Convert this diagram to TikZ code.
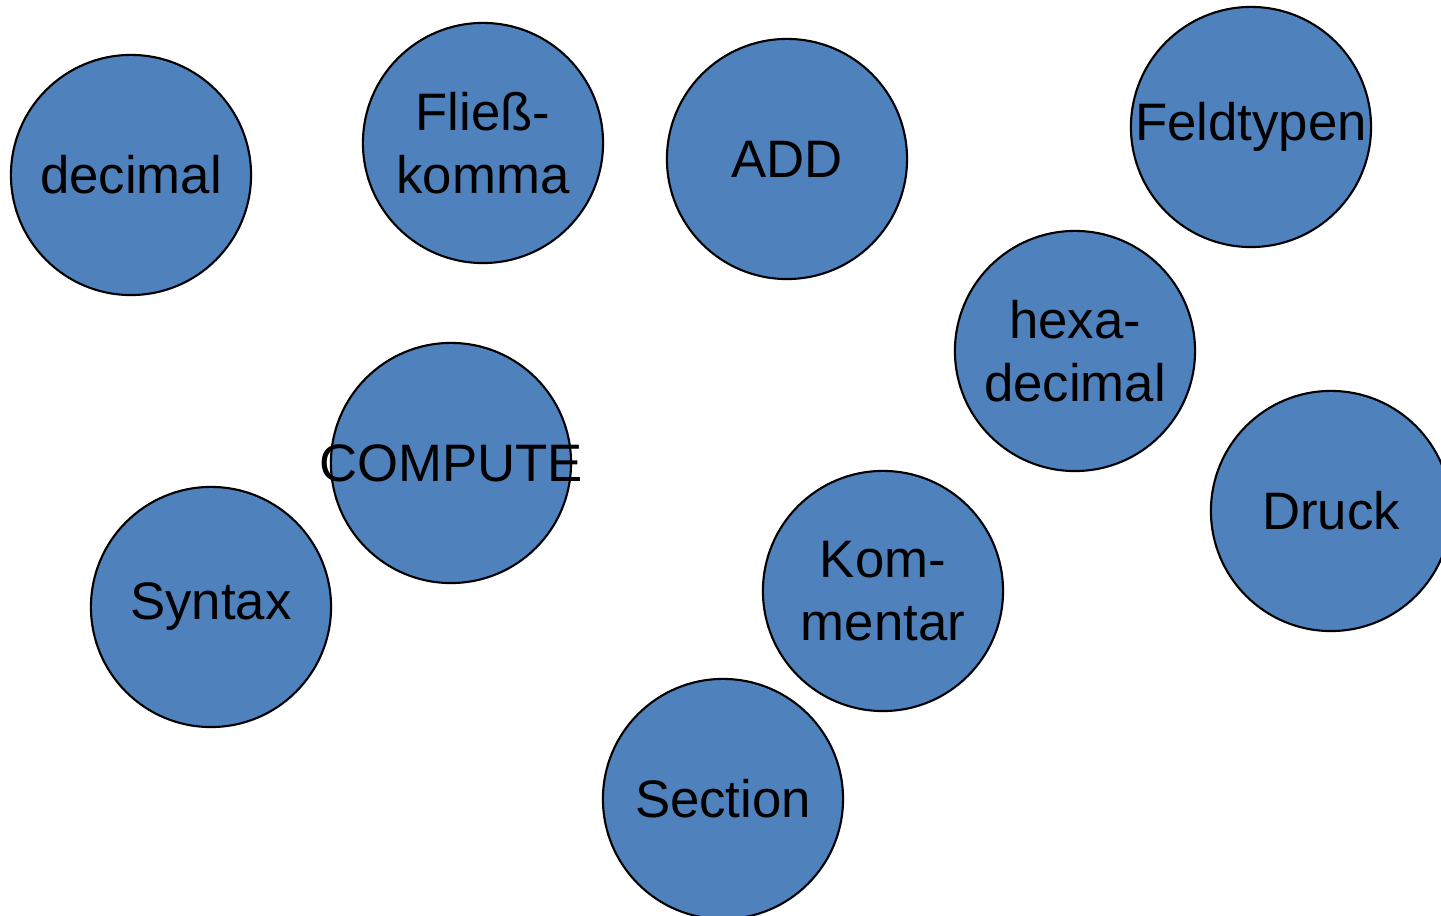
\documentclass[tikz,border=0pt]{standalone}
\usepackage{fontspec}
\setmainfont{Liberation Sans}
\usepackage{tikz}
\definecolor{bubbleblue}{HTML}{4F81BD}
\def\bubble(#1)(#2)#3{\node[bubble] (#1) at (#2) {}; \node[bubbletext] at (#1) {#3};}

\begin{document}
\begin{tikzpicture}[x=0.01cm,y=-0.01cm,
		bubble/.style={circle, draw=black, line width=0.6pt, fill=bubbleblue, minimum size=2.4cm, inner sep=0pt},
		bubbletext/.style={align=center, font=\fontsize{15pt}{18pt}\selectfont, inner sep=0pt}]
				\useasboundingbox (0, 0) rectangle (1441, 916);
				
				\bubble(decimal)(131, 175){decimal}
				\bubble(fliess)(483, 143){Fließ-\\komma}
				\bubble(add)(787, 159){ADD}
				\bubble(feldtypen)(1251, 127){Feldtypen}
				\bubble(hexa)(1075, 351){hexa-\\decimal}
				
				\bubble(compute)(451, 463){COMPUTE}
				\bubble(druck)(1331, 511){Druck}
				\bubble(syntax)(211, 607){Syntax}
				\bubble(kommentar)(883, 591){Kom-\\mentar}
				\bubble(section)(723, 799){Section}
			\end{tikzpicture}
\end{document}
